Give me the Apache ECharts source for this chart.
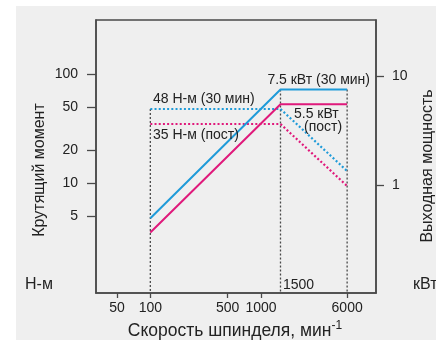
<!DOCTYPE html>
<html><head><meta charset="utf-8">
<script src="https://cdn.jsdelivr.net/npm/echarts@6/dist/echarts.min.js"></script>
<style>html,body{margin:0;padding:0;background:#fff}#c{width:436px;height:340px}</style>
</head><body><div id="c"></div>
<script>
// Data
const speeds = [100, 1500, 6000];
const torque30min = [48, 48, 13];
const torqueCont = [35, 35, 9.5];
const power30min = [0.5, 7.5, 7.5];
const powerCont = [0.37, 5.5, 5.5];
const speedTicks = [50, 100, 500, 1000, 6000];
const torqueTicks = [5, 10, 20, 50, 100];
const powerTicks = [1, 10];
const torqueGuideSpeeds = [100];
const torqueGuideTops = [48];
const powerGuideSpeeds = [1500, 6000];
const powerGuideTops = [7.5, 7.5];
const speedRange = [32.3, 10940];
const torqueRange = [1, 312];
const powerRange = [0.1035, 32.4];

const BLUE = '#1f9bd9', PINK = '#e0197b', AX = '#4a4a4a', TXT = '#222';
const FF = 'Liberation Sans, Arial, sans-serif';

function pts(xs, ys) { return xs.map((x, i) => [x, ys[i]]); }
const guideSeries = [];
torqueGuideSpeeds.forEach((s, i) => guideSeries.push({
  type: 'line', yAxisIndex: 0, symbol: 'none', silent: true, z: 1,
  lineStyle: { color: AX, width: 1.3, type: [2, 2] },
  data: [[s, torqueGuideTops[i]], [s, torqueRange[0]]]
}));
powerGuideSpeeds.forEach((s, i) => guideSeries.push({
  type: 'line', yAxisIndex: 1, symbol: 'none', silent: true, z: 1,
  lineStyle: { color: AX, width: 1.3, type: [2, 2] },
  data: [[s, powerGuideTops[i]], [s, powerRange[0]]]
}));

const fmt = v => String(Math.round(v * 100) / 100);
const txt = (text, x, y, extra, rot) => ({
  type: 'text', x: x, y: y, rotation: rot || 0, silent: true, z: 10,
  style: Object.assign({ text: text, fill: TXT, fontSize: 14, fontFamily: FF, verticalAlign: 'middle' }, extra || {})
});

const chart = echarts.init(document.getElementById('c'), null, { renderer: 'canvas' });
chart.setOption({
  backgroundColor: '#fff',
  animation: false,
  grid: { left: 96, right: 60, top: 20, bottom: 47, show: true, borderColor: AX, borderWidth: 1.5, backgroundColor: 'transparent' },
  xAxis: {
    type: 'log', min: speedRange[0], max: speedRange[1],
    axisLine: { show: true, lineStyle: { color: AX, width: 1.5 } },
    axisTick: { show: true, customValues: speedTicks, length: 5, lineStyle: { color: AX, width: 1.3 } },
    axisLabel: { customValues: speedTicks, formatter: fmt, margin: 8, fontSize: 14, fontFamily: FF, color: TXT },
    splitLine: { show: false }, minorTick: { show: false }
  },
  yAxis: [{
    type: 'log', min: torqueRange[0], max: torqueRange[1], position: 'left',
    axisLine: { show: true, lineStyle: { color: AX, width: 1.5 } },
    axisTick: { show: true, customValues: torqueTicks, length: 9, lineStyle: { color: AX, width: 1.3 } },
    axisLabel: { customValues: torqueTicks, formatter: fmt, margin: 18, fontSize: 14, fontFamily: FF, color: TXT },
    splitLine: { show: false }
  }, {
    type: 'log', min: powerRange[0], max: powerRange[1], position: 'right',
    axisLine: { show: true, lineStyle: { color: AX, width: 1.5 } },
    axisTick: { show: true, customValues: powerTicks, length: 8, lineStyle: { color: AX, width: 1.3 } },
    axisLabel: { customValues: powerTicks, formatter: fmt, margin: 16, fontSize: 14, fontFamily: FF, color: TXT },
    splitLine: { show: false }
  }],
  series: guideSeries.concat([
    { type: 'line', yAxisIndex: 0, symbol: 'none', z: 3, lineStyle: { color: BLUE, width: 2.2, type: [2, 2.2] }, data: pts(speeds, torque30min) },
    { type: 'line', yAxisIndex: 0, symbol: 'none', z: 3, lineStyle: { color: PINK, width: 2.2, type: [2, 2.2] }, data: pts(speeds, torqueCont) },
    { type: 'line', yAxisIndex: 1, symbol: 'none', z: 4, lineStyle: { color: BLUE, width: 2 }, data: pts(speeds, power30min) },
    { type: 'line', yAxisIndex: 1, symbol: 'none', z: 4, lineStyle: { color: PINK, width: 2 }, data: pts(speeds, powerCont) }
  ]),
  graphic: [
    { type: 'rect', shape: { x: 16, y: 6, width: 420, height: 334 }, style: { fill: '#efefef' }, z: -100, silent: true },
    txt('48 Н-м (30 мин)', 153, 99),
    txt('35 Н-м (пост)', 153, 135),
    txt('7.5 кВт (30 мин)', 370, 80, { align: 'right', backgroundColor: '#efefef' }),
    txt('5.5 кВт', 294, 114),
    txt('(пост)', 304, 127),
    txt('1500', 283, 285),
    txt('Н-м', 25, 285, { fontSize: 16 }),
    txt('кВт', 413, 285, { fontSize: 16 }),
    txt('Крутящий момент', 40, 170, { fontSize: 16, align: 'center' }, Math.PI / 2),
    txt('Выходная мощность', 428, 166, { fontSize: 16, align: 'center' }, Math.PI / 2),
    {
      type: 'text', x: 235, y: 331, silent: true, z: 10,
      style: {
        text: '{a|Скорость шпинделя, мин}{s|-1}', align: 'center', verticalAlign: 'middle', fill: TXT,
        rich: { a: { fontSize: 17.5, fontFamily: FF, fill: TXT }, s: { fontSize: 12, fontFamily: FF, fill: TXT, padding: [0, 0, 10, 0] } }
      }
    }
  ]
});
</script></body></html>
